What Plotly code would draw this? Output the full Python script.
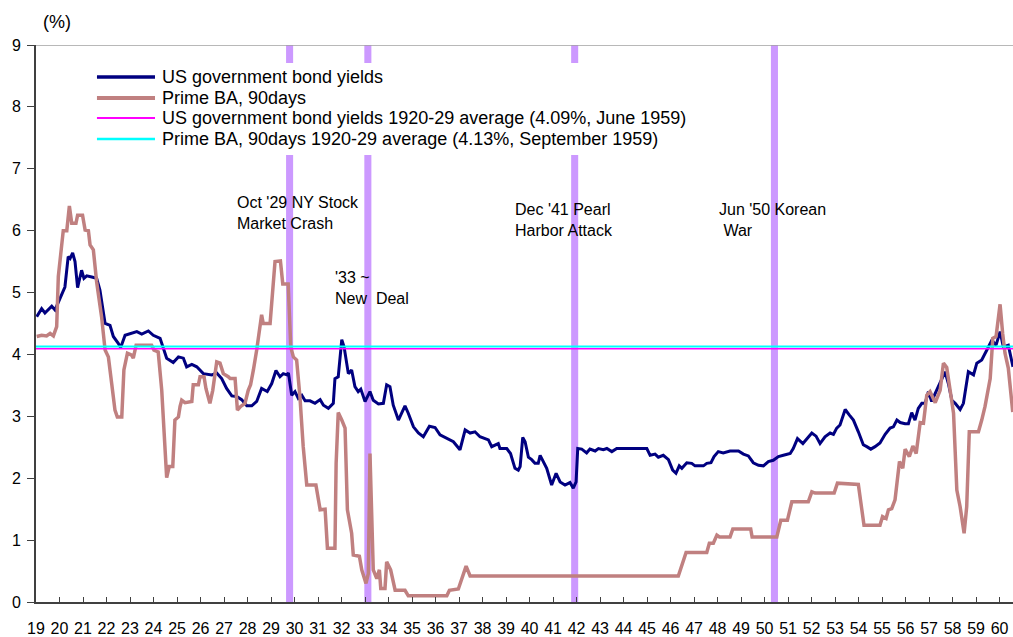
"""
US government bond yields vs Prime BA 90days, 1919-1960.
"""

import plotly.graph_objects as go

FONTE = "Liberation Sans, Arial, sans-serif"

# Datas em anos decimais (1919.0 = jan/1919), valores em %
bond_x = [
    1919.03, 1919.24, 1919.38, 1919.67, 1919.81, 1920.16, 1920.23, 1920.37, 1920.45, 1920.56,
    1920.66, 1920.77, 1920.94, 1921.04, 1921.16, 1921.37, 1921.58, 1921.72, 1921.94, 1922.15,
    1922.29, 1922.50, 1922.60, 1922.79, 1923.00, 1923.29, 1923.50, 1923.78, 1923.99, 1924.28,
    1924.56, 1924.84, 1925.06, 1925.27, 1925.41, 1925.63, 1925.84, 1926.12, 1926.48, 1926.69,
    1926.90, 1927.11, 1927.33, 1927.54, 1927.75, 1927.97, 1928.18, 1928.39, 1928.60, 1928.84,
    1929.03, 1929.21, 1929.38, 1929.52, 1929.67, 1929.74, 1929.88, 1930.02, 1930.16, 1930.31,
    1930.45, 1930.66, 1930.87, 1931.09, 1931.23, 1931.44, 1931.65, 1931.72, 1931.86, 1932.01,
    1932.11, 1932.29, 1932.43, 1932.57, 1932.71, 1932.82, 1933.00, 1933.21, 1933.35, 1933.57,
    1933.78, 1933.92, 1934.06, 1934.20, 1934.42, 1934.56, 1934.70, 1934.84, 1935.06, 1935.27,
    1935.48, 1935.74, 1935.98, 1936.19, 1936.48, 1936.76, 1937.04, 1937.26, 1937.47, 1937.68,
    1937.89, 1938.25, 1938.39, 1938.67, 1938.74, 1939.03, 1939.19, 1939.38, 1939.52, 1939.60,
    1939.71, 1939.81, 1939.95, 1940.09, 1940.23, 1940.37, 1940.45, 1940.59, 1940.73, 1940.94,
    1941.13, 1941.30, 1941.51, 1941.72, 1941.86, 1941.98, 1942.05, 1942.22, 1942.43, 1942.57,
    1942.79, 1942.93, 1943.14, 1943.29, 1943.50, 1943.71, 1944.70, 1944.99, 1945.13, 1945.34,
    1945.48, 1945.69, 1945.91, 1946.09, 1946.23, 1946.37, 1946.48, 1946.69, 1946.90, 1947.04,
    1947.40, 1947.54, 1947.72, 1947.85, 1948.03, 1948.24, 1948.53, 1948.89, 1949.10, 1949.31,
    1949.52, 1949.74, 1949.95, 1950.16, 1950.37, 1950.59, 1950.80, 1951.09, 1951.22, 1951.40,
    1951.63, 1951.80, 1952.01, 1952.19, 1952.36, 1952.57, 1952.79, 1952.93, 1953.07, 1953.21,
    1953.43, 1953.61, 1953.78, 1953.99, 1954.20, 1954.35, 1954.52, 1954.70, 1954.91, 1955.13,
    1955.34, 1955.48, 1955.63, 1955.77, 1955.98, 1956.12, 1956.26, 1956.40, 1956.54, 1956.69,
    1956.83, 1956.97, 1957.11, 1957.26, 1957.47, 1957.68, 1957.82, 1957.97, 1958.11, 1958.32,
    1958.46, 1958.67, 1958.89, 1959.03, 1959.24, 1959.46, 1959.67, 1959.85, 1960.02, 1960.16,
    1960.37, 1960.57,
]
bond_y = [
    4.61, 4.74, 4.67, 4.78, 4.72, 5.04, 5.09, 5.58, 5.55, 5.64,
    5.50, 5.08, 5.36, 5.23, 5.27, 5.25, 5.23, 5.04, 4.50, 4.47,
    4.29, 4.18, 4.11, 4.31, 4.33, 4.37, 4.33, 4.38, 4.31, 4.26,
    3.94, 3.87, 3.96, 3.94, 3.80, 3.84, 3.80, 3.69, 3.67, 3.70,
    3.61, 3.45, 3.33, 3.32, 3.27, 3.17, 3.17, 3.24, 3.45, 3.40,
    3.53, 3.74, 3.64, 3.69, 3.67, 3.70, 3.34, 3.40, 3.29, 3.34,
    3.25, 3.25, 3.21, 3.27, 3.18, 3.13, 3.21, 3.61, 3.64, 4.24,
    4.12, 3.69, 3.75, 3.48, 3.40, 3.44, 3.24, 3.40, 3.26, 3.20,
    3.21, 3.51, 3.48, 3.18, 2.94, 3.05, 3.17, 3.05, 2.83, 2.73,
    2.67, 2.84, 2.82, 2.70, 2.64, 2.59, 2.46, 2.78, 2.73, 2.75,
    2.67, 2.62, 2.51, 2.56, 2.48, 2.48, 2.40, 2.16, 2.13, 2.19,
    2.66, 2.59, 2.34, 2.30, 2.24, 2.24, 2.37, 2.27, 2.16, 1.89,
    2.08, 1.94, 1.89, 1.93, 1.84, 1.94, 2.48, 2.47, 2.41, 2.47,
    2.44, 2.48, 2.46, 2.48, 2.43, 2.48, 2.48, 2.48, 2.37, 2.39,
    2.34, 2.37, 2.30, 2.13, 2.08, 2.20, 2.16, 2.25, 2.24, 2.20,
    2.20, 2.24, 2.25, 2.35, 2.43, 2.41, 2.44, 2.44, 2.39, 2.36,
    2.25, 2.21, 2.20, 2.27, 2.29, 2.35, 2.37, 2.40, 2.48, 2.64,
    2.56, 2.64, 2.73, 2.68, 2.56, 2.67, 2.73, 2.71, 2.81, 2.86,
    3.11, 3.02, 2.94, 2.75, 2.54, 2.51, 2.47, 2.51, 2.57, 2.71,
    2.81, 2.83, 2.94, 2.90, 2.88, 2.88, 3.06, 2.94, 3.13, 3.21,
    3.21, 3.40, 3.24, 3.37, 3.56, 3.72, 3.53, 3.26, 3.21, 3.11,
    3.21, 3.72, 3.67, 3.86, 3.91, 4.07, 4.23, 4.15, 4.37, 4.12,
    4.15, 3.80,
]

ba_x = [
    1919.03, 1919.24, 1919.45, 1919.60, 1919.74, 1919.88, 1919.95, 1920.09, 1920.16, 1920.31,
    1920.42, 1920.52, 1920.70, 1920.77, 1920.98, 1921.09, 1921.23, 1921.30, 1921.44, 1921.58,
    1921.79, 1921.94, 1922.08, 1922.22, 1922.36, 1922.46, 1922.65, 1922.74, 1922.89, 1923.07,
    1923.14, 1923.26, 1923.57, 1923.92, 1924.02, 1924.20, 1924.35, 1924.49, 1924.56, 1924.67,
    1924.82, 1924.91, 1925.06, 1925.13, 1925.20, 1925.34, 1925.63, 1925.69, 1925.91, 1925.98,
    1926.15, 1926.23, 1926.40, 1926.52, 1926.69, 1926.83, 1926.97, 1927.18, 1927.26, 1927.47,
    1927.57, 1927.71, 1927.89, 1928.03, 1928.13, 1928.25, 1928.39, 1928.60, 1928.67, 1928.96,
    1929.17, 1929.40, 1929.50, 1929.73, 1929.84, 1929.95, 1930.09, 1930.23, 1930.37, 1930.52,
    1930.91, 1931.09, 1931.30, 1931.40, 1931.72, 1931.77, 1931.86, 1932.01, 1932.15, 1932.25,
    1932.43, 1932.50, 1932.76, 1932.86, 1933.04, 1933.14, 1933.21, 1933.35, 1933.50, 1933.61,
    1933.67, 1933.85, 1933.92, 1934.09, 1934.28, 1934.70, 1934.84, 1936.48, 1936.59, 1936.97,
    1937.11, 1937.30, 1937.47, 1946.33, 1946.66, 1947.54, 1947.65, 1947.82, 1947.97, 1948.08,
    1948.53, 1948.65, 1949.41, 1949.47, 1950.52, 1950.69, 1950.97, 1951.16, 1951.86, 1952.01,
    1952.15, 1952.96, 1953.10, 1953.99, 1954.23, 1954.91, 1955.02, 1955.17, 1955.27, 1955.41,
    1955.55, 1955.74, 1955.88, 1955.98, 1956.16, 1956.31, 1956.45, 1956.62, 1956.76, 1956.90,
    1957.04, 1957.26, 1957.47, 1957.61, 1957.75, 1957.89, 1958.04, 1958.18, 1958.32, 1958.49,
    1958.60, 1958.71, 1959.10, 1959.24, 1959.38, 1959.60, 1959.71, 1959.85, 1959.91, 1960.02,
    1960.13, 1960.23, 1960.37, 1960.56,
]
ba_y = [
    4.29, 4.31, 4.30, 4.34, 4.30, 4.45, 5.26, 5.69, 6.00, 6.00,
    6.40, 6.12, 6.12, 6.25, 6.25, 6.01, 6.00, 5.77, 5.69, 5.17,
    4.61, 4.07, 3.96, 3.53, 3.10, 2.99, 2.99, 3.75, 4.02, 3.99,
    3.94, 4.15, 4.15, 4.15, 4.07, 4.04, 3.42, 2.40, 2.01, 2.19,
    2.19, 2.94, 2.99, 3.16, 3.26, 3.22, 3.24, 3.51, 3.51, 3.64,
    3.64, 3.45, 3.21, 3.42, 3.88, 3.86, 3.69, 3.64, 3.61, 3.61,
    3.10, 3.16, 3.21, 3.42, 3.51, 3.75, 4.07, 4.64, 4.50, 4.50,
    5.50, 5.51, 5.14, 5.14, 4.12, 3.96, 3.91, 3.32, 2.51, 1.89,
    1.89, 1.49, 1.50, 0.87, 0.87, 2.24, 3.06, 2.94, 2.81, 1.49,
    1.11, 0.76, 0.74, 0.52, 0.30, 0.46, 2.40, 0.52, 0.38, 0.52,
    0.22, 0.22, 0.65, 0.52, 0.19, 0.19, 0.10, 0.10, 0.19, 0.21,
    0.36, 0.58, 0.42, 0.42, 0.80, 0.80, 0.95, 0.95, 1.08, 1.05,
    1.05, 1.18, 1.18, 1.05, 1.05, 1.32, 1.32, 1.62, 1.62, 1.78,
    1.76, 1.76, 1.92, 1.90, 1.24, 1.24, 1.38, 1.35, 1.49, 1.51,
    1.65, 2.27, 2.16, 2.47, 2.35, 2.52, 2.40, 2.90, 2.89, 3.34,
    3.40, 3.22, 3.42, 3.86, 3.79, 3.42, 3.05, 1.81, 1.54, 1.11,
    1.54, 2.75, 2.75, 2.94, 3.16, 3.61, 4.26, 4.29, 4.45, 4.81,
    4.34, 4.02, 3.78, 3.07,
]

# Médias 1920-29
media_bond = 4.09
media_ba = 4.13

# Eventos (linhas verticais)
eventos_x = [1929.79, 1933.12, 1941.92, 1950.42]

anos = list(range(1919, 1961))
anos_texto = [f"{a % 100:02d}" for a in anos]

nomes = [
    "US government bond yields",
    "Prime BA, 90days",
    "US government bond yields 1920-29 average (4.09%, June 1959)",
    "Prime BA, 90days 1920-29 average (4.13%, September 1959)",
]
cores = ["#000080", "#C08080", "#FF00FF", "#00FFFF"]
larguras = [3, 3.5, 1.5, 2]

X_MIN, X_MAX = 1919.0, 1960.57

fig = go.Figure()

series = [
    (bond_x, bond_y),
    (ba_x, ba_y),
    ([X_MIN, X_MAX], [media_bond, media_bond]),
    ([X_MIN, X_MAX], [media_ba, media_ba]),
]
for (sx, sy), nome, cor, lw in zip(series, nomes, cores, larguras):
    fig.add_trace(go.Scatter(
        x=sx, y=sy, mode="lines",
        line=dict(color=cor, width=lw),
        name=nome, showlegend=False,
    ))

# Faixas verticais dos eventos
for ev in eventos_x:
    fig.add_shape(
        type="rect", xref="x", yref="y",
        x0=ev - 0.15, x1=ev + 0.15, y0=0, y1=9,
        fillcolor="#CC99FF", line_width=0, layer="below",
    )

# Borda superior
fig.add_shape(
    type="line", xref="paper", yref="y",
    x0=0, x1=1, y0=9, y1=9,
    line=dict(color="#A0A0A0", width=1.5),
)

# Legenda desenhada à mão (fundo branco cobre as faixas)
fig.add_shape(
    type="rect", xref="paper", yref="paper",
    x0=0.055, x1=0.680, y0=0.8025, y1=0.9677,
    fillcolor="white", line_width=0, layer="above",
)
linhas_leg = [0.9425, 0.9048, 0.8689, 0.8312]
for ly, nome, cor, lw in zip(linhas_leg, nomes, cores, larguras):
    fig.add_shape(
        type="line", xref="paper", yref="paper",
        x0=0.0624, x1=0.1218, y0=ly, y1=ly,
        line=dict(color=cor, width=lw + 0.5), layer="above",
    )
    fig.add_annotation(
        text=nome, xref="paper", yref="paper", x=0.1269, y=ly,
        xanchor="left", yanchor="middle", showarrow=False,
        font=dict(size=18, color="#000000", family=FONTE),
    )

notas = [
    ("Oct '29 NY Stock<br>Market Crash", 1927.47, 6.29),
    ("'33 ~<br>New\u00a0 Deal", 1931.64, 5.08),
    ("Dec '41 Pearl<br>Harbor Attack", 1939.31, 6.18),
    ("Jun '50 Korean<br>\u00a0War", 1947.97, 6.18),
]
for texto, nx, ny in notas:
    fig.add_annotation(
        text=texto, x=nx, y=ny, xref="x", yref="y",
        xanchor="left", yanchor="middle", align="left",
        showarrow=False, font=dict(size=16, color="#000000", family=FONTE),
    )

fig.add_annotation(
    text="(%)", xref="paper", yref="paper", x=0.005, y=1.041,
    xanchor="left", yanchor="middle", showarrow=False,
    font=dict(size=18, color="#000000", family=FONTE),
)

fig.update_layout(
    width=1013, height=637,
    paper_bgcolor="white", plot_bgcolor="white",
    font=dict(family=FONTE, size=16, color="#000000"),
    margin=dict(l=36, r=0, t=45, b=35),
    showlegend=False,
    xaxis=dict(
        range=[X_MIN, X_MAX],
        tickmode="array", tickvals=anos, ticktext=anos_texto,
        ticks="inside", ticklen=5, tickcolor="#404040", tickwidth=1,
        showline=True, linecolor="#404040", linewidth=2,
        showgrid=False, zeroline=False,
        tickfont=dict(size=16), ticklabelstandoff=11,
    ),
    yaxis=dict(
        range=[0, 9], dtick=1,
        ticks="outside", ticklen=7, tickcolor="#404040", tickwidth=1,
        showline=True, linecolor="#404040", linewidth=2,
        showgrid=False, zeroline=False,
        tickfont=dict(size=16), ticklabelstandoff=3,
    ),
)

fig.write_html(
    "out.html",
    config={"displayModeBar": False},
    post_script="document.body.style.margin = '0';",
)
